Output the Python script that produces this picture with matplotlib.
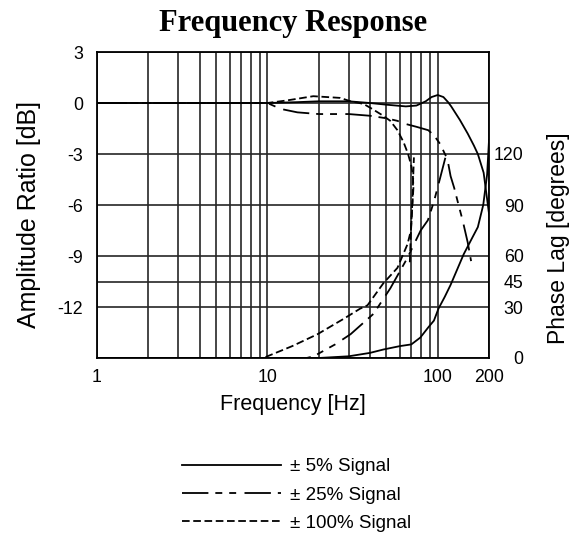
import matplotlib
matplotlib.use("Agg")
import matplotlib.pyplot as plt
from matplotlib.ticker import FixedLocator, NullFormatter

plt.rcParams['font.family'] = ['Liberation Sans', 'DejaVu Sans']
plt.rcParams['lines.scale_dashes'] = False

# ---------------- data ----------------
x_ticks = [1, 10, 100, 200]
amp_ticks = [3, 0, -3, -6, -9, -12]
phase_ticks = [0, 30, 45, 60, 90, 120]
series_labels = ["\u00b1 5% Signal", "\u00b1 25% Signal", "\u00b1 100% Signal"]

# 5 % signal
f_amp5 = [1, 5, 10, 15, 20, 30, 40, 50, 65, 75, 85, 92, 100, 108, 115, 120, 135, 150, 163, 172, 186, 200]
amp5 = [0, 0, 0, 0.05, 0.1, 0.1, 0.0, -0.1, -0.2, -0.15, 0.1, 0.35, 0.47, 0.35, 0.05, -0.2, -1.0, -1.8, -2.5, -3.0, -4.1, -6.5]
f_ph5 = [1, 20, 30, 40, 48, 60, 70, 79, 88, 95, 101, 110, 119, 130, 142, 160, 172, 185, 195, 200]
ph5 = [0, 0, 1, 3, 5, 7, 8, 12, 18, 22, 29, 36, 43, 52, 61, 71, 77, 90, 108, 128]

# 25 % signal
f_amp25 = [1, 10, 12, 15, 20, 26, 30, 40, 50, 58, 63, 75, 88, 95, 104, 109, 114, 119, 125, 131, 140, 150, 157]
amp25 = [0, 0, -0.35, -0.55, -0.65, -0.65, -0.65, -0.75, -0.9, -1.05, -1.2, -1.4, -1.6, -1.9, -2.45, -2.9, -3.3, -4.3, -5.0, -5.8, -6.9, -8.2, -9.3]
f_ph25 = [1, 17, 18.7, 25, 30.8, 42, 52.7, 66.5, 79.4, 87.5, 95, 104, 111, 114]
ph25 = [0, 0, 1, 8, 14, 26, 41, 59, 75, 81, 92, 107, 118, 120]

# 100 % signal
f_amp100 = [1, 10, 13, 18.6, 26.8, 30.8, 36.6, 40.5, 47, 52.7, 58, 63, 67, 70, 71.5, 72, 71, 69.6, 68.5]
amp100 = [0, 0, 0.15, 0.4, 0.3, 0.1, -0.05, -0.3, -0.7, -1.05, -1.6, -2.3, -3.0, -3.7, -4.3, -5.0, -6.0, -7.6, -9.5]
f_ph100 = [1, 9.5, 10, 14, 19.7, 28, 35, 38.7, 48, 58, 66.5, 69.6, 71, 72, 72.5]
ph100 = [0, 0, 1, 7, 14, 23, 29, 31, 44, 53, 67, 75, 92, 110, 118]

# ---------------- styles ----------------
AMP_LIM = (-15, 3)
PH_LIM = (0, 180)
lw = 1.3
style5 = dict(color='black', lw=lw, linestyle='-')
style25 = dict(color='black', lw=lw, linestyle=(0, (19, 5, 5, 5, 5, 6)))
style100 = dict(color='black', lw=lw, linestyle=(0, (5.5, 2.6)))
TICK_FS = 12.8


def phase_to_db(p):
    return AMP_LIM[0] + (p - PH_LIM[0]) * (AMP_LIM[1] - AMP_LIM[0]) / (PH_LIM[1] - PH_LIM[0])


fig = plt.figure(figsize=(5.85, 5.35), dpi=100)
ax = fig.add_axes([97 / 585, 1 - 358 / 535, 392 / 585, 306 / 535])

ax.set_xscale('log')
ax.set_xlim(1, 200)
ax.set_ylim(*AMP_LIM)

ax.xaxis.set_major_locator(FixedLocator(x_ticks))
ax.set_xticklabels([str(v) for v in x_ticks])
ax.xaxis.set_minor_locator(FixedLocator([m * d for d in (1, 10) for m in range(2, 10)]))
ax.xaxis.set_minor_formatter(NullFormatter())

ax.yaxis.set_major_locator(FixedLocator(amp_ticks))
ax.set_yticklabels([str(v) for v in amp_ticks])
ax.yaxis.set_minor_locator(FixedLocator([phase_to_db(p) for p in phase_ticks]))
ax.yaxis.set_minor_formatter(NullFormatter())

grid_kw = dict(color='#262626', lw=1.2)
ax.grid(True, which='both', axis='both', **grid_kw)
ax.set_axisbelow(True)
ax.tick_params(which='both', length=0)
ax.tick_params(axis='y', pad=10, labelsize=TICK_FS)
ax.tick_params(axis='x', pad=8, labelsize=TICK_FS)
for s in ax.spines.values():
    s.set_linewidth(1.3)

l5, = ax.plot(f_amp5, amp5, label=series_labels[0], **style5)
l25, = ax.plot(f_amp25, amp25, label=series_labels[1], **style25)
l100, = ax.plot(f_amp100, amp100, label=series_labels[2], **style100)

ax.set_xlabel("Frequency [Hz]", fontsize=15.5, labelpad=6)
ax.set_ylabel("Amplitude Ratio [dB]", fontsize=18)
ax.yaxis.set_label_coords(-0.142, 0.47)
ax.set_title("Frequency Response", fontsize=22, fontweight='bold',
             family=['Liberation Serif', 'DejaVu Serif'], pad=15)

ax2 = ax.twinx()
ax2.set_ylim(*PH_LIM)
ax2.yaxis.set_major_locator(FixedLocator(phase_ticks))
ax2.set_yticklabels([str(v) for v in phase_ticks])
ax2.tick_params(length=0, pad=25, labelsize=TICK_FS)
for lab in ax2.get_yticklabels():
    lab.set_horizontalalignment('right')
for s in ax2.spines.values():
    s.set_visible(False)
ax2.set_ylabel("Phase Lag [degrees]", fontsize=16.5)
ax2.yaxis.set_label_coords(1.148, 0.39)

ax2.plot(f_ph5, ph5, **style5)
ax2.plot(f_ph25, ph25, **style25)
ax2.plot(f_ph100, ph100, **style100)

fig.legend(handles=[l5, l25, l100], loc='upper left',
           bbox_to_anchor=(182 / 585, 1 - 458 / 535), frameon=False,
           fontsize=13.5, handlelength=5.3, handletextpad=0.45,
           labelspacing=0.6, borderpad=0, borderaxespad=0)

fig.savefig("out.png", dpi=100)
